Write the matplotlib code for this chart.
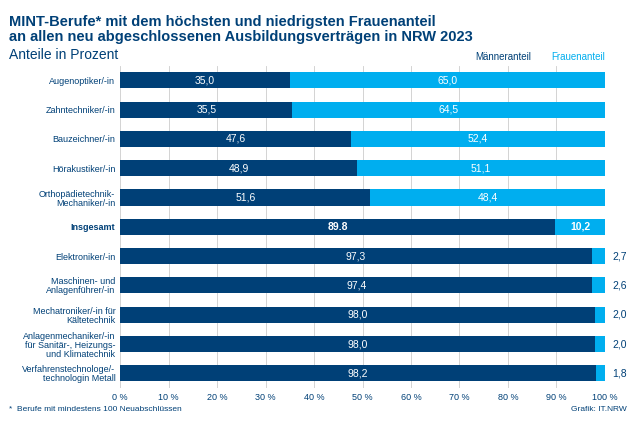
import numpy as np
import matplotlib.pyplot as plt

categories = ["Augenoptiker/-in", "Zahntechniker/-in", "Bauzeichner/-in", "Hörakustiker/-in",
              "Orthopädietechnik-\nMechaniker/-in", "Insgesamt", "Elektroniker/-in",
              "Maschinen- und\nAnlagenführer/-in", "Mechatroniker/-in für\nKältetechnik",
              "Anlagenmechaniker/-in\nfür Sanitär-, Heizungs-\nund Klimatechnik",
              "Verfahrenstechnologe/-\ntechnologin Metall"]
maenner = [35.0, 35.5, 47.6, 48.9, 51.6, 89.8, 97.3, 97.4, 98.0, 98.0, 98.2]
frauen = [65.0, 64.5, 52.4, 51.1, 48.4, 10.2, 2.7, 2.6, 2.0, 2.0, 1.8]

DARK = "#004077"
LIGHT = "#00aeef"
plt.rcParams['font.family'] = ['Liberation Sans', 'DejaVu Sans']

fig = plt.figure(figsize=(6.36, 4.24), dpi=100)
ax = fig.add_axes([0.189, 0.085, 0.762, 0.76])
y = np.arange(len(categories))
ax.barh(y, maenner, color=DARK, height=0.55, zorder=2)
ax.barh(y, frauen, left=maenner, color=LIGHT, height=0.55, zorder=2)

fmt = lambda v: f"{v:.1f}".replace(".", ",")
for i, (m, f) in enumerate(zip(maenner, frauen)):
    bold = categories[i] == "Insgesamt"
    mtxt = fmt(m).replace(",", ".") if bold else fmt(m)
    ftxt = fmt(f)
    w = "bold" if bold else "normal"
    ax.text(m / 2, i, mtxt, color="white", ha="center", va="center", fontsize=7.5, weight=w, zorder=3)
    if f > 5:
        ax.text(m + f / 2, i, ftxt, color="white", ha="center", va="center", fontsize=7.5, weight=w, zorder=3)
    else:
        ax.text(101.5, i, ftxt, color=DARK, ha="left", va="center", fontsize=7.5, zorder=3)

ax.set_ylim(len(categories) - 0.5, -0.5)
ax.set_xlim(0, 100)
ax.set_yticks(y)
ax.set_yticklabels(categories, fontsize=6.5, color=DARK, linespacing=1.0)
ax.get_yticklabels()[5].set_weight("bold")
ax.set_xticks(range(0, 101, 10))
ax.set_xticklabels([f"{v} %" for v in range(0, 101, 10)], fontsize=6.5, color=DARK)
ax.tick_params(length=0)
ax.grid(axis="x", color="#cccccc", lw=0.6, zorder=0)
for s in ax.spines.values():
    s.set_visible(False)

fig.text(0.014, 0.965, "MINT-Berufe* mit dem höchsten und niedrigsten Frauenanteil\nan allen neu abgeschlossenen Ausbildungsverträgen in NRW 2023",
         fontsize=10.5, weight="bold", color=DARK, va="top", linespacing=1.15)
fig.text(0.014, 0.87, "Anteile in Prozent", fontsize=10, color=DARK, va="center")
fig.text(0.835, 0.865, "Männeranteil", fontsize=7, color=DARK, ha="right", va="center")
fig.text(0.952, 0.865, "Frauenanteil", fontsize=7, color=LIGHT, ha="right", va="center")
fig.text(0.014, 0.03, "*  Berufe mit mindestens 100 Neuabschlüssen", fontsize=6, color=DARK)
fig.text(0.985, 0.03, "Grafik: IT.NRW", fontsize=6, color=DARK, ha="right")
fig.savefig("out.png", dpi=100)
